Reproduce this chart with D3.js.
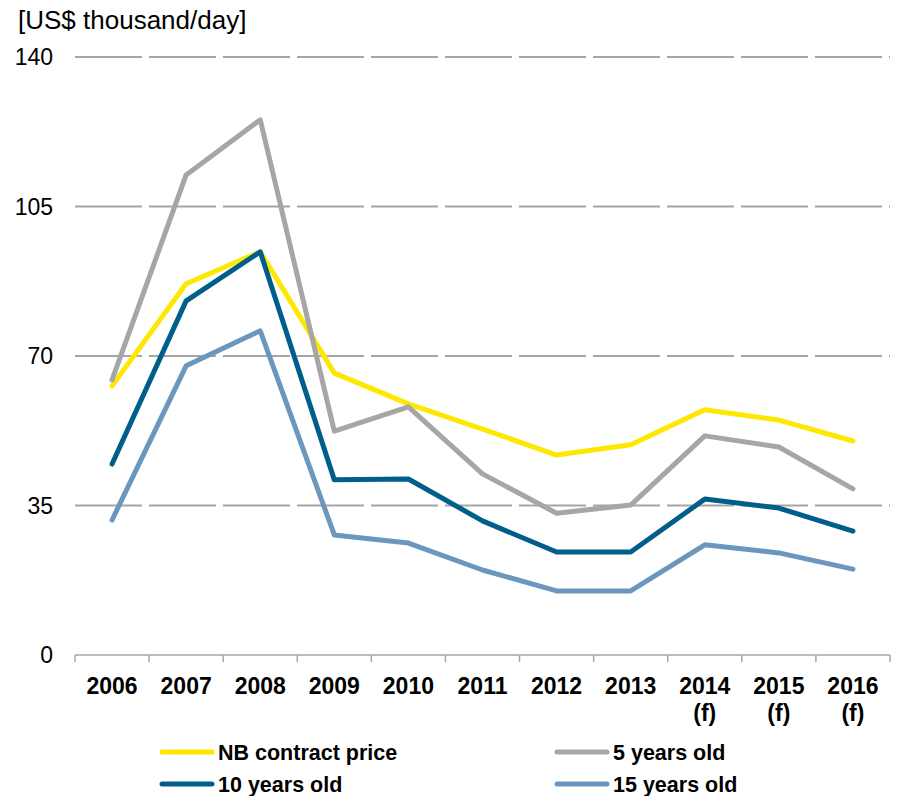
<!DOCTYPE html>
<html>
<head>
<meta charset="utf-8">
<script src="https://cdn.jsdelivr.net/npm/d3@7"></script>
<style>
  body { margin: 0; background: #fff; }
  svg { font-family: "Liberation Sans", Arial, sans-serif; }
</style>
</head>
<body>
<svg width="897" height="796"></svg>
<script>
const years = ["2006", "2007", "2008", "2009", "2010", "2011", "2012", "2013", "2014\n(f)", "2015\n(f)", "2016\n(f)"];
const nbContract = [63.0, 86.9, 94.4, 66.0, 58.8, 52.9, 46.8, 49.2, 57.4, 55.0, 50.1];
const fiveYears = [64.4, 112.4, 125.3, 52.4, 58.1, 42.4, 33.2, 35.1, 51.3, 48.7, 38.9];
const tenYears = [44.7, 82.9, 94.4, 41.0, 41.2, 31.4, 24.1, 24.1, 36.5, 34.4, 29.0];
const fifteenYears = [31.6, 67.7, 75.9, 28.1, 26.2, 19.9, 15.0, 15.0, 25.8, 23.9, 20.1];
const yTicks = [0, 35, 70, 105, 140];

const series = [
    { name: "NB contract price", values: nbContract, color: "#ffe800" },
    { name: "5 years old", values: fiveYears, color: "#a6a6a6" },
    { name: "10 years old", values: tenYears, color: "#005e8a" },
    { name: "15 years old", values: fifteenYears, color: "#6b97bf" }
];

const margin = { top: 57, left: 75 },
    width = 890 - 75,
    height = 655 - 57;

const svg = d3.select("svg");
const g = svg.append("g")
    .attr("transform", "translate(" + margin.left + "," + margin.top + ")");

let x = d3.scaleBand().domain(years).range([0, width]);
let y = d3.scaleLinear().domain([0, 140]).range([height, 0]);

// gridlines
g.selectAll(".grid")
    .data(yTicks.filter(d => d > 0))
    .enter()
    .append("line")
    .attr("x1", 0)
    .attr("x2", width)
    .attr("y1", d => y(d))
    .attr("y2", d => y(d))
    .attr("stroke", "#a6a6a6")
    .attr("stroke-width", 2)
    .attr("stroke-dasharray", "67,7");

// y labels
g.selectAll(".ylab")
    .data(yTicks)
    .enter()
    .append("text")
    .attr("x", -22)
    .attr("y", d => y(d))
    .attr("dy", "0.36em")
    .attr("text-anchor", "end")
    .attr("font-size", 23)
    .attr("fill", "#000")
    .text(d => d);

// x axis
const xAxis = g.append("g")
    .attr("transform", "translate(0," + height + ")");
xAxis.append("line")
    .attr("x1", 0).attr("x2", width)
    .attr("stroke", "#a6a6a6").attr("stroke-width", 1.5);
xAxis.selectAll(".tick")
    .data(d3.range(years.length + 1))
    .enter()
    .append("line")
    .attr("x1", i => i * x.step())
    .attr("x2", i => i * x.step())
    .attr("y1", 0).attr("y2", 7)
    .attr("stroke", "#a6a6a6").attr("stroke-width", 1.5);

const xl = xAxis.selectAll(".xlab")
    .data(years)
    .enter()
    .append("text")
    .attr("text-anchor", "middle")
    .attr("font-size", 23)
    .attr("font-weight", "bold")
    .attr("fill", "#000");
xl.each(function(d) {
    const t = d3.select(this);
    d.split("\n").forEach((s, i) => {
        t.append("tspan")
            .attr("x", x(d) + x.bandwidth() / 2)
            .attr("y", 39 + i * 27)
            .text(s);
    });
});

// lines
const line = d3.line()
    .x((d, i) => x(years[i]) + x.bandwidth() / 2)
    .y(d => y(d));

g.selectAll(".series")
    .data(series)
    .enter()
    .append("path")
    .attr("fill", "none")
    .attr("stroke", d => d.color)
    .attr("stroke-width", 5)
    .attr("stroke-linejoin", "round")
    .attr("stroke-linecap", "round")
    .attr("d", d => line(d.values));

// unit label
svg.append("text")
    .attr("x", 18)
    .attr("y", 29)
    .attr("font-size", 26)
    .attr("fill", "#000")
    .text("[US$ thousand/day]");

// legend
const legendPos = [[160, 752], [555, 752], [160, 784], [555, 784]];
const legend = svg.selectAll(".legend")
    .data(series)
    .enter()
    .append("g")
    .attr("transform", (d, i) => "translate(" + legendPos[i][0] + "," + legendPos[i][1] + ")");
legend.append("line")
    .attr("x1", 2).attr("x2", 52)
    .attr("stroke", d => d.color)
    .attr("stroke-width", 5)
    .attr("stroke-linecap", "round");
legend.append("text")
    .attr("x", 58)
    .attr("dy", "0.36em")
    .attr("font-size", 21.5)
    .attr("font-weight", "bold")
    .attr("fill", "#000")
    .text(d => d.name);
</script>
</body>
</html>
